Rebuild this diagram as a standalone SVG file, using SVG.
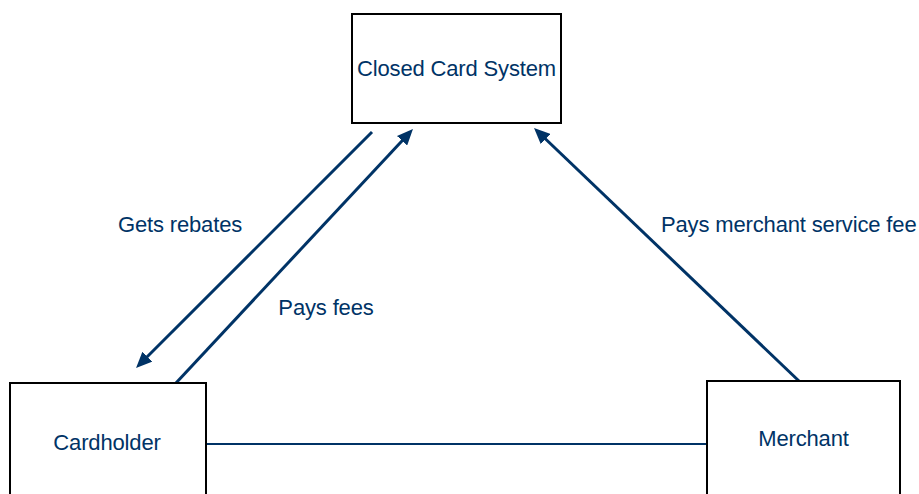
<svg xmlns="http://www.w3.org/2000/svg" width="919" height="494" viewBox="0 0 919 494">
<style>
.box{fill:#fff;stroke:#000;stroke-width:2}
.lbl{font-family:"Liberation Sans",Arial,sans-serif;font-size:22px;fill:#003366;letter-spacing:-0.15px}
.arr{stroke:#003366;stroke-width:3;fill:none}
.con{stroke:#003366;stroke-width:2;fill:none}
</style>
<defs>
<marker id="ah" markerUnits="userSpaceOnUse" markerWidth="16" markerHeight="14" refX="8" refY="7" orient="auto">
<path d="M0,0 L16,7 L0,14 z" fill="#003366"/>
</marker>
</defs>
<rect width="919" height="494" fill="#fff"/>
<g id="connectors">
<line class="con" x1="206" y1="444" x2="707" y2="444"/>
<line class="arr" x1="372" y1="132" x2="141.7" y2="362.3" marker-end="url(#ah)"/>
<line class="arr" x1="176" y1="383" x2="407.5" y2="134.9" marker-end="url(#ah)"/>
<line class="arr" x1="800" y1="382" x2="539.8" y2="133.5" marker-end="url(#ah)"/>
<text class="lbl" x="180" y="232" text-anchor="middle">Gets rebates</text>
<text class="lbl" x="326" y="315" text-anchor="middle">Pays fees</text>
<text class="lbl" x="661" y="232">Pays merchant service fee</text>
</g>
<g id="closed-card-system">
<rect class="box" x="352" y="14" width="209" height="109"/>
<text class="lbl" x="456.5" y="76" text-anchor="middle">Closed Card System</text>
</g>
<g id="cardholder">
<rect class="box" x="10" y="383" width="196" height="130"/>
<text class="lbl" x="107" y="450" text-anchor="middle">Cardholder</text>
</g>
<g id="merchant">
<rect class="box" x="707" y="381" width="193" height="130"/>
<text class="lbl" x="803.5" y="446" text-anchor="middle">Merchant</text>
</g>
</svg>
